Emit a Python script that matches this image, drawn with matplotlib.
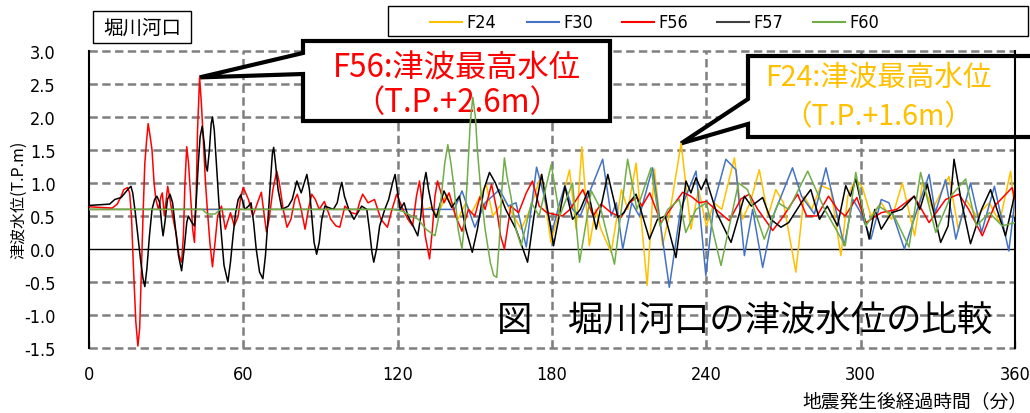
import matplotlib
matplotlib.use("Agg")
import matplotlib.pyplot as plt
from matplotlib import font_manager
from matplotlib.patches import Polygon, Rectangle

# ---------------- data (time in minutes, level in T.P. m) ----------------
SERIES_NAMES = ["F24", "F30", "F56", "F57", "F60"]
SERIES_COLORS = ["#FFC000", "#4472C4", "#FF0000", "#000000", "#70AD47"]
LEGEND_COLORS = ["#FFC000", "#4472C4", "#FF0000", "#404040", "#70AD47"]

F24 = [(0, 0.6), (128, 0.6), (130.5, 0.6), (133, 0.63), (135.5, 0.5), (138.9, 0.83), (143.4, 0.45),
       (146.5, 0.7), (148.5, 0.53), (154.4, 0.98), (157, 0.5), (161.5, 0.75), (168, 0.3), (171.5, 0.6),
       (175.8, 1.13), (179.6, 0.1), (183, 0.6), (186.8, 1.2), (189.4, 0.3), (191.6, 1.55), (194.5, 0.05),
       (197, 0.6), (199, 0.3), (203, -0.05), (207, 0.9), (209.5, 0.6), (212.7, 1.3), (217, -0.55),
       (219.8, 1.21), (223, 0.05), (226, 0.6), (230.2, 1.6), (234, 0.3), (237, 0.9), (240, 0.35),
       (243, 0.7), (246, 0.6), (250.9, 1.38), (254, 0.45), (257, 0.7), (260.6, 1.2), (264, 0.5),
       (267, 0.9), (270, 0.7), (274.8, -0.35), (278, 0.8), (281, 0.6), (284.5, 0.96), (288.4, 0.9),
       (292.3, -0.1), (295, 0.8), (298, 1.06), (300.7, 0.93), (304, 0.5), (308, 0.7), (312, 0.45),
       (316.2, 1.0), (321, 0.2), (324, 1.0), (328, 0.6), (334.3, 1.1), (338, 0.3), (341, 0.75),
       (345, 0.5), (350, 0.7), (354, 0.4), (358.3, 1.18), (360, 0.5)]

F30 = [(0, 0.6), (142, 0.6), (145, 0.88), (150, 0.33), (154, 0.7), (159.6, 0.9), (163, 0.65), (166, 0.7),
       (170, 0.03), (174, 1.24), (177, 0.8), (180, 0.26), (183, 0.7), (185, 0.96), (188, 0.6), (191, 0.5),
       (195, 0.9), (199.7, 1.36), (203, 0.5), (205, 0.7), (207.5, 0.0), (211, 0.7), (214, 0.5),
       (219.1, 1.23), (225.6, -0.58), (230, 0.6), (236, 1.18), (239.8, -0.4), (243, 0.7), (247.6, 1.36),
       (251.5, 1.2), (254.8, -0.1), (258, 0.6), (261.9, -0.28), (266, 0.5), (273.5, 1.23), (277, 0.8),
       (282, 0.53), (286.5, 1.23), (293.6, 0.05), (297, 0.75), (300, 0.55), (304, 0.15), (308, 0.75),
       (311, 0.7), (317, 0.0), (322, 0.6), (326.6, 1.13), (329, 0.55), (333, 1.05), (337, 0.15),
       (342.7, 1.0), (347, 0.25), (352, 0.95), (357.6, -0.03), (360, 0.75)]

F56 = [(0, 0.64), (9, 0.62), (11, 0.68), (12.5, 0.8), (13.5, 0.9), (15, 0.93), (15.8, 0.85), (16.5, 0.5),
       (17.3, -0.3), (18.2, -1.1), (19, -1.47), (19.7, -1.2), (20.3, -0.4), (21, 0.5), (21.7, 1.3),
       (22.3, 1.6), (23, 1.9), (23.8, 1.7), (24.5, 1.5), (25.3, 1.0), (26, 0.75), (27, 0.6), (28, 0.8),
       (28.5, 0.85), (29.3, 0.5), (30, 0.75), (30.6, 0.95), (31.5, 0.75), (32.5, 0.5), (34, 0.2),
       (35, -0.1), (36, -0.2), (36.7, 0.2), (37.3, 1.0), (38, 1.55), (38.7, 1.3), (39.5, 0.8), (40.3, 0.3),
       (41, 0.1), (41.6, 0.7), (42.2, 1.8), (43, 2.6), (43.7, 2.2), (44.5, 1.6), (45.3, 1.0), (46, 0.6),
       (47, 0.1), (48, -0.27), (49, 0.1), (50, 0.5), (51.5, 0.65), (53, 0.3), (55, 0.55), (56.5, 0.35),
       (58, 0.5), (59, 0.8), (60, 0.93), (62, 0.75), (63.7, 0.5), (65.5, 0.7), (67, 0.86), (68, 0.55),
       (69, 0.26), (70, 0.45), (71.5, 0.9), (73, 1.18), (74, 1.0), (75.5, 0.6), (77, 0.33), (78.5, 0.45),
       (80, 0.75), (81, 0.83), (82.5, 0.6), (84, 0.3), (85.3, 0.6), (86.6, 0.83), (88, 0.75), (89.5, 0.6),
       (91.5, 0.72), (94, 0.45), (96, 0.35), (97.5, 0.33), (99.5, 0.65), (102, 0.55), (104, 0.53),
       (105.3, 0.72), (106.4, 0.83), (108.5, 0.7), (111, 0.75), (113.5, 0.45), (116, 0.33), (117.8, 0.6),
       (119.6, 0.83), (121, 0.7), (122, 0.6), (124, 0.45), (125.8, 0.35), (127.3, 0.8), (128.5, 1.03),
       (129.5, 0.7), (130.7, 0.2), (132.4, -0.15), (133.5, 0.3), (134.5, 0.8), (135.5, 1.03), (138, 0.7),
       (140, 0.85), (142.5, 0.5), (145, 0.27), (147.5, 0.6), (150, 0.5), (152, 0.79), (154, 0.6),
       (156.5, 0.98), (158.5, 0.6), (160, 0.2), (161.5, 0.0), (164, 0.65), (167, 0.55), (170, 0.85),
       (172.4, 1.03), (175, 0.65), (178, 0.55), (184, 0.5), (187, 0.6), (192, 0.9), (196, 0.5), (199, 0.68),
       (203, 0.55), (206.9, 0.48), (210, 0.7), (213, 0.78), (215, 0.65), (218, 0.85), (222.4, 0.4),
       (226, 0.6), (230.8, 0.86), (234, 0.8), (237.2, 0.7), (240, 0.72), (243.7, 0.6), (248.9, 0.43),
       (253.5, 0.76), (256.7, 0.83), (260, 0.6), (265.8, 0.28), (270, 0.5), (275.5, 0.83), (279, 0.5),
       (283, 0.5), (287.5, 0.8), (291, 0.6), (294, 0.5), (298.5, 0.78), (302, 0.4), (308, 0.55), (314, 0.6),
       (320.8, 0.8), (326.6, 0.4), (333, 0.75), (338.2, 0.83), (342, 0.6), (347.3, 0.2), (352, 0.65),
       (358.9, 0.93), (360, 0.75)]

F57 = [(0, 0.66), (8, 0.68), (10, 0.75), (12.5, 0.78), (14, 0.85), (15.5, 0.92), (16.3, 0.95), (17, 0.85),
       (18, 0.55), (19, 0.2), (20, -0.15), (21, -0.45), (21.7, -0.57), (22.5, -0.3), (23.5, 0.2),
       (24.5, 0.6), (25.5, 0.75), (26.4, 0.8), (27.5, 0.7), (28.3, 0.35), (28.8, 0.2), (29.5, 0.4),
       (30.5, 0.75), (31.5, 0.83), (32.5, 0.7), (33.5, 0.35), (34.8, -0.1), (36, -0.33), (37, 0.0),
       (38, 0.4), (38.6, 0.5), (40, 0.4), (41, 0.35), (41.8, 0.8), (42.5, 1.3), (43.2, 1.7), (44, 1.86),
       (44.8, 1.6), (45.5, 1.25), (46, 1.18), (46.8, 1.5), (47.5, 1.9), (48, 2.0), (48.7, 1.8), (49.5, 1.3),
       (50.5, 0.7), (51.5, 0.2), (52.5, -0.25), (54, -0.5), (55, -0.2), (56, 0.2), (57, 0.55), (58, 0.75),
       (59, 0.82), (60.6, 0.6), (62, 0.65), (63, 0.7), (64, 0.4), (65, 0.0), (66.3, -0.35), (67.6, -0.45),
       (68.6, -0.1), (69.5, 0.4), (70.5, 1.0), (71.3, 1.45), (71.8, 1.54), (72.5, 1.3), (73.5, 0.9),
       (75, 0.6), (77.5, 0.65), (79, 0.75), (80.8, 1.03), (82.5, 0.85), (84.7, 1.13), (85.7, 0.9),
       (86.7, 0.45), (87.5, 0.1), (88.5, -0.08), (89.5, 0.1), (90.5, 0.45), (91.7, 0.65), (95, 0.6),
       (96.5, 0.7), (97.5, 0.9), (98.3, 1.01), (99.3, 0.8), (101, 0.6), (103, 0.45), (106, 0.65), (108, 0.6),
       (109, 0.3), (110, -0.05), (110.7, -0.2), (111.8, 0.0), (113, 0.35), (115, 0.6), (116.5, 0.75),
       (118, 1.0), (119, 1.13), (119.8, 0.9), (121, 0.6), (122.5, 0.7), (124, 0.5), (126, 0.35),
       (127.8, 0.2), (129, 0.5), (130.2, 1.0), (131, 1.16), (132, 0.9), (133.5, 0.6), (135, 0.48),
       (138, 0.88), (141, 0.63), (144, 0.8), (146.5, 0.3), (149, -0.05), (151, 0.3), (153.5, 0.9),
       (155.7, 1.16), (158, 1.0), (162, 0.6), (166, 0.3), (170.5, -0.2), (173, 0.5), (176, 1.13),
       (180.6, 0.05), (185, 0.95), (188, 0.45), (191, 0.6), (194, 0.88), (197.2, 0.3), (201.7, 1.13),
       (205.6, 0.48), (208, 0.55), (210, 0.7), (212.7, 0.83), (217.9, 0.15), (221, 0.45), (224, 0.5),
       (228.2, -0.13), (232.1, 1.03), (234, 0.85), (236, 1.08), (238, 0.9), (239.9, 1.06), (244, 0.55),
       (249.6, 0.1), (254.8, 0.8), (257.5, 0.65), (261.9, 0.78), (265, 0.45), (269, 0.33), (272, 0.4),
       (277.4, 0.73), (280.6, 0.9), (284, 0.45), (287, 0.65), (291, 0.35), (294.2, 0.96), (296, 0.8),
       (298.1, 1.06), (303.3, 0.15), (305.5, 0.6), (308, 0.3), (312, 0.55), (316, 0.6), (320.8, 0.8),
       (323, 0.6), (325.9, 0.98), (331.1, 0.1), (334, 0.35), (336.3, 1.36), (339, 0.75), (342.7, 0.08),
       (347, 0.6), (350.5, 0.9), (356.3, 0.2), (360, 0.85)]

F60 = [(0, 0.6), (44, 0.6), (46, 0.53), (49, 0.53), (51, 0.6), (118, 0.6), (122, 0.57), (128, 0.45),
       (131, 0.3), (134.5, 0.2), (136, 0.5), (137, 0.8), (138.3, 1.3), (139.5, 1.58), (140.7, 1.3),
       (142, 0.9), (143.5, 0.3), (145, 0.0), (146, 0.4), (147, 1.0), (148.2, 1.9), (149.2, 2.3),
       (150.2, 2.0), (151, 1.5), (152.5, 0.8), (154, 0.3), (156, -0.2), (157.3, -0.4), (158.5, -0.43),
       (159.5, 0.1), (160.5, 0.9), (161.5, 1.38), (162.5, 1.1), (164, 0.8), (166, 0.3), (168, 0.05),
       (172, 0.7), (175, 0.5), (179.7, 1.28), (183, 0.5), (188, 1.0), (190.7, -0.2), (195.3, 0.88),
       (199, 0.6), (204.3, -0.23), (209.4, 1.36), (213, 0.6), (218.5, 1.23), (222, 0.35), (225, 0.6),
       (229.5, 0.75), (232, 0.25), (236, 0.6), (240, 0.7), (245.7, -0.25), (252.5, 1.0), (256, 0.9),
       (262.5, 0.15), (268, 0.7), (272, 0.6), (279.4, 1.18), (286, 0.6), (294, 0.05), (298.1, 1.16),
       (302, 0.35), (307, 0.65), (313, 0.5), (318.8, 0.03), (323.3, 1.16), (329.2, 0.25), (335, 0.8),
       (340.8, 1.06), (345, 0.35), (350, 0.55), (355, 0.35), (360, 0.4)]

SERIES = [F24, F30, F56, F57, F60]

X_TICKS = [0, 60, 120, 180, 240, 300, 360]
Y_TICKS = [-1.5, -1.0, -0.5, 0.0, 0.5, 1.0, 1.5, 2.0, 2.5, 3.0]

# ---------------- fonts ----------------
names = {f.name for f in font_manager.fontManager.ttflist}
if "Liberation Sans Narrow" in names:
    NARROW = dict(family="Liberation Sans Narrow")
else:
    NARROW = dict(family="DejaVu Sans", stretch="condensed")
JP = "Noto Sans CJK JP"
plt.rcParams["font.family"] = [JP, "DejaVu Sans"]
plt.rcParams["lines.scale_dashes"] = False

W, H = 1030, 414
fig = plt.figure(figsize=(W / 100, H / 100), dpi=100)
L, R, T, B = 89, 1015, 52, 349
ax = fig.add_axes([L / W, 1 - B / H, (R - L) / W, (B - T) / H])
ax.set_zorder(1)
ax.set_xlim(0, 360)
ax.set_ylim(-1.5, 3.0)

# pixel-coordinate overlay (used as a transform for annotations)
ov = fig.add_axes([0, 0, 1, 1])
ov.set_zorder(2)
ov.set_xlim(0, W)
ov.set_ylim(H, 0)
ov.axis("off")
ov.patch.set_alpha(0)
PX = ov.transData

GRID = dict(color="#7F7F7F", lw=1.8, dashes=(6, 3.2), clip_on=False, zorder=1)
for y in Y_TICKS:
    if y == 0:
        ax.axhline(y, color="black", lw=1.0, zorder=1.5)
    else:
        ax.axhline(y, **GRID)
for x in X_TICKS[1:-1]:
    ax.axvline(x, **GRID)

for s in ["top", "bottom"]:
    ax.spines[s].set_visible(False)
for s in ["left", "right"]:
    ax.spines[s].set_color("black")
    ax.spines[s].set_linewidth(1.5)

ax.set_xticks(X_TICKS)
ax.set_xticklabels([str(x) for x in X_TICKS], fontsize=13, **NARROW)
ax.set_yticks(Y_TICKS)
ax.set_yticklabels([f"{y:.1f}" for y in Y_TICKS], fontsize=13, **NARROW)
ax.tick_params(axis="x", direction="in", length=5, width=1, color="#7F7F7F", pad=12)
ax.tick_params(axis="y", length=0, pad=24)

for data, c in zip(SERIES, SERIES_COLORS):
    ts = [p[0] for p in data]
    vs = [p[1] for p in data]
    ax.plot(ts, vs, color=c, lw=1.1, zorder=3)


def to_px(t, v):
    x, y = ax.transData.transform((t, v))
    return x, H - y


# callout F56 (inside the plot, beneath the series lines)
t56, v56 = max(F56, key=lambda p: p[1])
tip56 = to_px(t56, v56)
ax.add_patch(Polygon([(303, 42), (610, 42), (610, 122), (303, 122), (303, 75), tip56, (303, 54)],
                     closed=True, fc="white", ec="black", lw=3, joinstyle="miter", zorder=2,
                     transform=PX, clip_on=False))
ax.text(457, 68, "F56:津波最高水位", color="#FF0000", ha="center", va="center", fontsize=22.5,
        transform=PX, zorder=2.5, clip_on=False)
ax.text(457, 103, "（T.P.+2.6m）", color="#FF0000", ha="center", va="center", fontsize=22.5,
        transform=PX, zorder=2.5, clip_on=False)

# callout F24
t24, v24 = max(F24, key=lambda p: p[1])
tip24 = to_px(t24, v24)
ax.add_patch(Polygon([(748, 57), (1045, 57), (1045, 138), (748, 138), (748, 125), tip24, (748, 100)],
                     closed=True, fc="white", ec="black", lw=3, joinstyle="miter", zorder=2,
                     transform=PX, clip_on=False))
ax.text(878, 78, "F24:津波最高水位", color="#FFC000", ha="center", va="center", fontsize=20.5,
        transform=PX, zorder=2.5, clip_on=False)
ax.text(878, 117, "（T.P.+1.6m）", color="#FFC000", ha="center", va="center", fontsize=20.5,
        transform=PX, zorder=2.5, clip_on=False)

# axis labels
ov.text(19, 200, "津波水位(T.P.m)", rotation=90, ha="center", va="center", fontsize=11.5)
ov.text(1027, 402, "地震発生後経過時間（分）", ha="right", va="center", fontsize=13.5)

# title box
ov.add_patch(Rectangle((93, 12), 98, 32, fill=False, ec="black", lw=1))
ov.text(142, 28.5, "堀川河口", ha="center", va="center", fontsize=14)

# legend box
ov.add_patch(Rectangle((388, 7), 640, 30, fill=True, fc="white", ec="black", lw=1))
leg_x = [430, 527, 622, 717, 813]
for lx, name, c in zip(leg_x, SERIES_NAMES, LEGEND_COLORS):
    ov.plot([lx, lx + 32], [23, 23], color=c, lw=1.5)
    ov.text(lx + 36, 23.5, name, ha="left", va="center", fontsize=13, **NARROW)

# caption
ov.text(497, 322, "図　堀川河口の津波水位の比較", ha="left", va="center", fontsize=25.5, color="black")

fig.savefig("out.png", dpi=100)
